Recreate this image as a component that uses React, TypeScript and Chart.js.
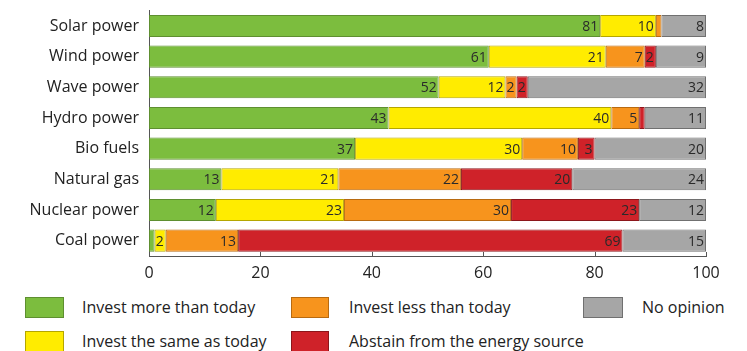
import React, { useEffect, useRef } from "react";
import { Chart, registerables } from "chart.js";

Chart.register(...registerables);

const categories = [
  "Solar power",
  "Wind power",
  "Wave power",
  "Hydro power",
  "Bio fuels",
  "Natural gas",
  "Nuclear power",
  "Coal power",
];

const investMore = [81, 61, 52, 43, 37, 13, 12, 1];
const investSame = [10, 21, 12, 40, 30, 21, 23, 2];
const investLess = [1, 7, 2, 5, 10, 22, 30, 13];
const abstain = [0, 2, 2, 1, 3, 20, 23, 69];
const noOpinion = [8, 9, 32, 11, 20, 24, 12, 15];

const xTicks = [0, 20, 40, 60, 80, 100];

const seriesNames = [
  "Invest more than today",
  "Invest the same as today",
  "Invest less than today",
  "Abstain from the energy source",
  "No opinion",
];

const colors = ["#7cbd3e", "#ffec00", "#f7941d", "#cf2229", "#a6a6a6"];
const borders = ["#5e8f30", "#b5a600", "#b86a10", "#8c161b", "#707070"];

const FONT = "'Open Sans', 'DejaVu Sans', sans-serif";

const labelPlugin = {
  id: "segLabels",
  afterDatasetsDraw(chart: any) {
    const ctx = chart.ctx;
    ctx.save();
    ctx.font = `14px ${FONT}`;
    ctx.fillStyle = "#2a2a2a";
    ctx.textAlign = "right";
    ctx.textBaseline = "middle";
    chart.data.datasets.forEach((ds: any, di: number) => {
      const meta = chart.getDatasetMeta(di);
      meta.data.forEach((el: any, i: number) => {
        const v = ds.data[i];
        if (v >= 2) {
          ctx.fillText(String(v), el.x - 2, el.y + 1);
        }
      });
    });
    ctx.restore();
  },
};

const tickPlugin = {
  id: "innerTicks",
  afterDraw(chart: any) {
    const ctx = chart.ctx;
    const sx = chart.scales.x;
    const bottom = chart.chartArea.bottom;
    ctx.save();
    ctx.strokeStyle = "#555";
    ctx.lineWidth = 1;
    xTicks.forEach((t) => {
      const x = Math.round(sx.getPixelForValue(t)) + 0.5;
      ctx.beginPath();
      ctx.moveTo(x, bottom);
      ctx.lineTo(x, bottom - 4);
      ctx.stroke();
    });
    ctx.restore();
  },
};

function ChartView() {
  const ref = useRef<HTMLCanvasElement | null>(null);
  useEffect(() => {
    if (!ref.current) return;
    const dataArrays = [investMore, investSame, investLess, abstain, noOpinion];
    const chart = new Chart(ref.current, {
      type: "bar",
      data: {
        labels: categories,
        datasets: dataArrays.map((d, i) => ({
          label: seriesNames[i],
          data: d,
          backgroundColor: colors[i],
          borderColor: borders[i],
          borderWidth: 1,
          borderSkipped: false,
          categoryPercentage: 0.72,
          barPercentage: 1,
        })),
      },
      options: {
        indexAxis: "y",
        animation: false,
        responsive: false,
        maintainAspectRatio: false,
        layout: { padding: { top: 0, right: 41, left: 0, bottom: 0 } },
        plugins: {
          legend: { display: false },
          tooltip: { enabled: false },
        },
        scales: {
          x: {
            stacked: true,
            min: 0,
            max: 100,
            afterBuildTicks: (scale: any) => {
              scale.ticks = xTicks.map((v) => ({ value: v }));
            },
            afterFit: (scale: any) => {
              scale.height = 34;
            },
            grid: { display: false, drawTicks: false },
            border: { display: true, color: "#555", width: 1 },
            ticks: {
              padding: 8,
              color: "#222",
              font: { family: FONT, size: 16 },
            },
          },
          y: {
            stacked: true,
            afterFit: (scale: any) => {
              scale.width = 149;
            },
            grid: { display: false, drawTicks: false },
            border: { display: true, color: "#555", width: 1 },
            ticks: {
              padding: 10,
              color: "#222",
              font: { family: FONT, size: 16 },
            },
          },
        },
      },
      plugins: [labelPlugin, tickPlugin],
    });
    return () => chart.destroy();
  }, []);
  return (
    <canvas
      ref={ref}
      width={747}
      height={299}
      style={{ display: "block", position: "absolute", left: 0, top: -9 }}
    />
  );
}

const legendLayout = [
  { sx: 25, top: 297, w: 39, tx: 82 },
  { sx: 25, top: 331, w: 39, tx: 82 },
  { sx: 291, top: 297, w: 38, tx: 349 },
  { sx: 291, top: 331, w: 38, tx: 349 },
  { sx: 583, top: 297, w: 40, tx: 642 },
];

export default function App() {
  return (
    <div
      style={{
        position: "fixed",
        left: 0,
        top: 0,
        width: 747,
        height: 351,
        background: "#fff",
        overflow: "hidden",
      }}
    >
      <ChartView />
      {legendLayout.map((l, i) => (
        <React.Fragment key={i}>
          <div
            style={{
              position: "absolute",
              left: l.sx,
              top: l.top,
              width: l.w,
              height: 21,
              boxSizing: "border-box",
              background: colors[i],
              border: `1px solid ${borders[i]}`,
            }}
          />
          <div
            style={{
              position: "absolute",
              left: l.tx,
              top: l.top,
              height: 21,
              lineHeight: "21px",
              fontFamily: FONT,
              fontSize: 16,
              color: "#222",
              whiteSpace: "nowrap",
            }}
          >
            {seriesNames[i]}
          </div>
        </React.Fragment>
      ))}
    </div>
  );
}
